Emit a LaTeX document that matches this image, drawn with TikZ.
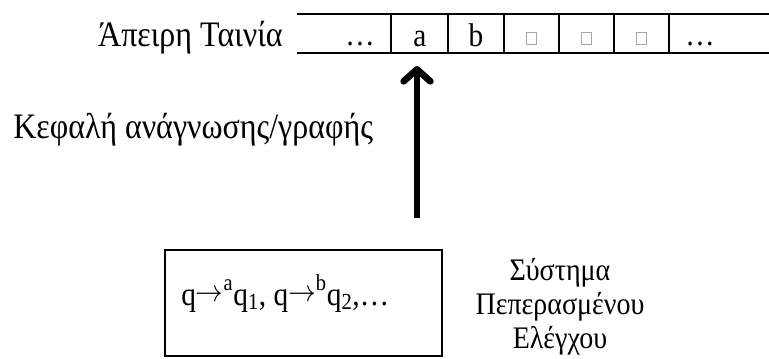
\documentclass[tikz,border=0pt]{standalone}
\usepackage{fontspec}
\usepackage{graphicx}
\setmainfont{Liberation Serif}
\usetikzlibrary{arrows.meta}
\newcommand\vstr[1]{\scalebox{1}[1.12]{#1}}
\newcommand\rarr{\raisebox{0.12em}{$\rightarrow$}}
\newcommand\supr[1]{\raisebox{0.1em}{\textsuperscript{#1}}}
\begin{document}
\begin{tikzpicture}[x=0.75pt,y=-0.75pt,
  txt/.style={inner sep=0pt,anchor=base,font=\fontsize{24}{28}\selectfont},
  celltxt/.style={inner sep=0pt,anchor=base,font=\fontsize{22}{26}\selectfont},
  sidetxt/.style={inner sep=0pt,anchor=base,font=\fontsize{21}{25}\selectfont},
  ruletxt/.style={inner sep=0pt,anchor=base west,font=\fontsize{22}{26}\selectfont},
  tapeline/.style={line width=1.6pt},
  divline/.style={line width=1pt},
  blank/.style={draw=gray!70,line width=0.5pt,minimum width=7.5pt,minimum height=9pt,inner sep=0pt},
  headarrow/.style={line width=5pt,-{Straight Barb[round,length=9pt,width=20pt]}}]
\useasboundingbox (0,0) rectangle (769,358);
% tape
\draw[tapeline] (297,14) -- (769,14);
\draw[tapeline] (297,53) -- (769,53);
\foreach \x in {391,448,504,559,614,669}
  \draw[divline] (\x,14) -- (\x,53);
\node[txt,anchor=base east] (tapelabel) at (283,46) {\vstr{Άπειρη Ταινία}};
\node[celltxt] (c0) at (360,45) {\vstr{…}};
\node[celltxt] (c1) at (420,46) {\vstr{a}};
\node[celltxt] (c2) at (476,46) {\vstr{b}};
\node[blank] (c3) at (531.5,38) {};
\node[blank] (c4) at (586.5,38) {};
\node[blank] (c5) at (641.5,38) {};
\node[celltxt] (c6) at (700,45) {\vstr{…}};
% head
\node[txt,anchor=base west] (headlabel) at (13,138) {\vstr{Κεφαλή ανάγνωσης/γραφής}};
\coordinate (hbot) at (417,218);
\coordinate (htop) at (417,66);
\draw[headarrow] (hbot) -- (htop);
% control box
\draw[line width=1pt] (165,250) rectangle (442,356);
\node[ruletxt] (rules) at (181,305) {\vstr{q\rarr\supr{a}q\textsubscript{1}, q\rarr\supr{b}q\textsubscript{2},…}};
\node[sidetxt] (fsc1) at (560,280) {\vstr{Σύστημα}};
\node[sidetxt] (fsc2) at (560,314) {\vstr{Πεπερασμένου}};
\node[sidetxt] (fsc3) at (560,348) {\vstr{Ελέγχου}};
\end{tikzpicture}
\end{document}
